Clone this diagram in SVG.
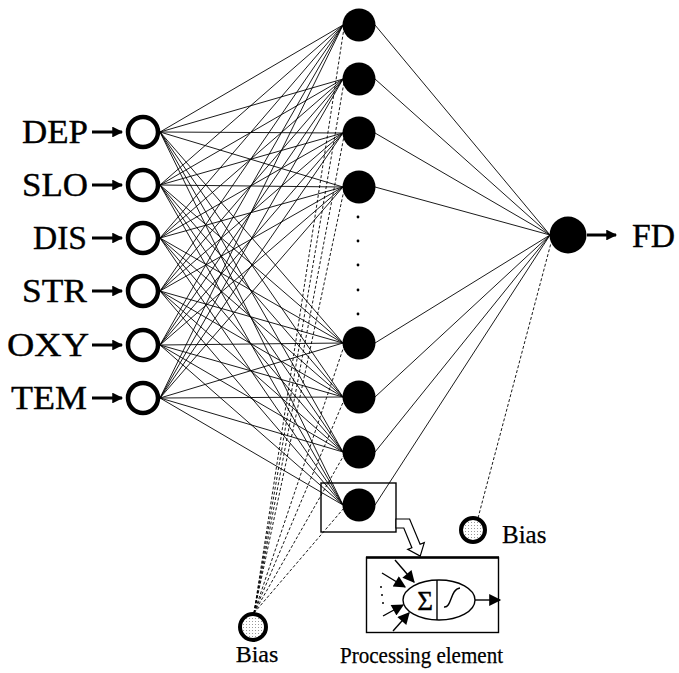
<svg xmlns="http://www.w3.org/2000/svg" width="679" height="673" viewBox="0 0 679 673">
  <style>
    .lbl { font-family: "Liberation Serif", "Times New Roman", serif; font-size: 34px; fill: #000; stroke: #000; stroke-width: 0.4; }
    .small { font-family: "Liberation Serif", "Times New Roman", serif; font-size: 24px; fill: #000; stroke: #000; stroke-width: 0.25; }
    .w { stroke: #000; stroke-width: 0.9; fill: none; }
    .b { stroke: #000; stroke-width: 0.9; stroke-dasharray: 3 2; fill: none; }
    .in { fill: #fff; stroke: #000; stroke-width: 4.5; }
    .hid { fill: #000; }
    .bias { fill: url(#stipple); stroke: #000; stroke-width: 4; }
    .thick { stroke: #000; stroke-width: 3; fill: none; }
    .pe { stroke: #000; stroke-width: 1.4; fill: none; }
  </style>
  <defs>
    <pattern id="stipple" width="3" height="3" patternUnits="userSpaceOnUse">
      <rect width="3" height="3" fill="#fff"/>
      <rect width="1" height="1" fill="#999"/>
    </pattern>
    <marker id="head" viewBox="0 0 10 10" refX="9" refY="5" markerWidth="4.3" markerHeight="3.6" orient="auto" markerUnits="strokeWidth">
      <path d="M0,0 L10,5 L0,10 z" fill="#000"/>
    </marker>
    <marker id="headPE" viewBox="0 0 10 10" refX="9" refY="5" markerWidth="15" markerHeight="12" orient="auto" markerUnits="userSpaceOnUse">
      <path d="M0,0 L10,5 L0,10 z" fill="#000"/>
    </marker>
  </defs>

  <!-- connectors -->
  <g id="connectors">
    <!-- input layer to hidden layer -->
    <g id="input-hidden">
      <path class="w" d="M160,132 L343,25 M160,132 L343,79 M160,132 L343,133 M160,132 L343,187 M160,132 L343,343 M160,132 L343,397 M160,132 L343,452 M160,132 L343,505"/>
      <path class="w" d="M160,185 L343,25 M160,185 L343,79 M160,185 L343,133 M160,185 L343,187 M160,185 L343,343 M160,185 L343,397 M160,185 L343,452 M160,185 L343,505"/>
      <path class="w" d="M160,238 L343,25 M160,238 L343,79 M160,238 L343,133 M160,238 L343,187 M160,238 L343,343 M160,238 L343,397 M160,238 L343,452 M160,238 L343,505"/>
      <path class="w" d="M160,291 L343,25 M160,291 L343,79 M160,291 L343,133 M160,291 L343,187 M160,291 L343,343 M160,291 L343,397 M160,291 L343,452 M160,291 L343,505"/>
      <path class="w" d="M160,345 L343,25 M160,345 L343,79 M160,345 L343,133 M160,345 L343,187 M160,345 L343,343 M160,345 L343,397 M160,345 L343,452 M160,345 L343,505"/>
      <path class="w" d="M160,398 L343,25 M160,398 L343,79 M160,398 L343,133 M160,398 L343,187 M160,398 L343,343 M160,398 L343,397 M160,398 L343,452 M160,398 L343,505"/>
    </g>
    <!-- hidden layer to output -->
    <path id="hidden-output" class="w" d="M375,25 L550,235 M375,79 L550,235 M375,133 L550,235 M375,187 L550,235 M375,343 L550,235 M375,397 L550,235 M375,452 L550,235 M375,505 L550,235"/>
    <!-- bias to hidden layer -->
    <path id="bias-hidden" class="b" d="M254,613 L344,28 M254,613 L344,82 M254,613 L344,136 M254,613 L344,190 M254,613 L344,346 M254,613 L344,400 M254,613 L344,455 M254,613 L344,508"/>
    <!-- bias to output -->
    <path id="bias-output" class="b" d="M478,518 L551,243"/>
    <!-- input arrows -->
    <g id="input-arrows">
      <line class="thick" x1="92" y1="132" x2="122" y2="132" marker-end="url(#head)"/>
      <line class="thick" x1="92" y1="185" x2="122" y2="185" marker-end="url(#head)"/>
      <line class="thick" x1="92" y1="238" x2="122" y2="238" marker-end="url(#head)"/>
      <line class="thick" x1="92" y1="291" x2="122" y2="291" marker-end="url(#head)"/>
      <line class="thick" x1="92" y1="345" x2="122" y2="345" marker-end="url(#head)"/>
      <line class="thick" x1="92" y1="398" x2="122" y2="398" marker-end="url(#head)"/>
    </g>
    <line class="thick" x1="587" y1="235" x2="616" y2="235" marker-end="url(#head)"/>
  </g>

  <!-- input nodes -->
  <g id="DEP"><circle class="in" cx="143" cy="132" r="15"/><text class="lbl" x="22" y="143" textLength="66" lengthAdjust="spacingAndGlyphs">DEP</text></g>
  <g id="SLO"><circle class="in" cx="143" cy="185" r="15"/><text class="lbl" x="22" y="196" textLength="66" lengthAdjust="spacingAndGlyphs">SLO</text></g>
  <g id="DIS"><circle class="in" cx="143" cy="238" r="15"/><text class="lbl" x="33" y="249" textLength="54" lengthAdjust="spacingAndGlyphs">DIS</text></g>
  <g id="STR"><circle class="in" cx="143" cy="291" r="15"/><text class="lbl" x="22" y="302" textLength="65" lengthAdjust="spacingAndGlyphs">STR</text></g>
  <g id="OXY"><circle class="in" cx="143" cy="345" r="15"/><text class="lbl" x="7" y="356" textLength="82" lengthAdjust="spacingAndGlyphs">OXY</text></g>
  <g id="TEM"><circle class="in" cx="143" cy="398" r="15"/><text class="lbl" x="11" y="409" textLength="76" lengthAdjust="spacingAndGlyphs">TEM</text></g>

  <!-- hidden nodes -->
  <g id="hidden">
    <circle class="hid" cx="359" cy="25" r="16.5"/>
    <circle class="hid" cx="359" cy="79" r="16.5"/>
    <circle class="hid" cx="359" cy="133" r="16.5"/>
    <circle class="hid" cx="359" cy="187" r="16.5"/>
    <circle class="hid" cx="359" cy="343" r="16.5"/>
    <circle class="hid" cx="359" cy="397" r="16.5"/>
    <circle class="hid" cx="359" cy="452" r="16.5"/>
    <circle class="hid" cx="359" cy="505" r="16.5"/>
  </g>
  <g id="ellipsis">
    <circle cx="358" cy="217" r="1.4"/>
    <circle cx="358" cy="241" r="1.4"/>
    <circle cx="358" cy="265" r="1.4"/>
    <circle cx="358" cy="290" r="1.4"/>
    <circle cx="358" cy="314" r="1.4"/>
  </g>

  <!-- output node -->
  <g id="FD">
    <circle class="hid" cx="568" cy="235" r="18.5"/>
    <text class="lbl" x="632" y="247" textLength="43" lengthAdjust="spacingAndGlyphs">FD</text>
  </g>

  <!-- bias nodes -->
  <g id="bias-left">
    <circle class="bias" cx="253" cy="627" r="13"/>
    <text class="small" x="257" y="662" text-anchor="middle">Bias</text>
  </g>
  <g id="bias-right">
    <circle class="bias" cx="473" cy="530" r="12"/>
    <text class="small" x="502" y="543" style="font-size:25px">Bias</text>
  </g>

  <!-- processing element detail -->
  <g id="processing-element">
    <rect x="321" y="483" width="75" height="49" fill="none" stroke="#000" stroke-width="1.4"/>
    <polygon points="396,519 409.6,519 420.1,544.3 424.3,542.6 420.2,556.1 407.7,549.4 411.9,547.7 403.8,528 396,528" fill="#fff" stroke="#000" stroke-width="1.2"/>
    <rect x="366.5" y="557.5" width="132" height="75" fill="#fff" stroke="#000" stroke-width="1.4"/>
    <line x1="366" y1="557.5" x2="499" y2="557.5" stroke="#000" stroke-width="2.6"/>
    <ellipse cx="439" cy="600" rx="36" ry="20" fill="#fff" class="pe"/>
    <line x1="437" y1="580" x2="437" y2="620" class="pe"/>
    <text x="425" y="610" text-anchor="middle" style="font-family:'Liberation Serif','Times New Roman',serif;font-size:27px;stroke:#000;stroke-width:0.4">Σ</text>
    <path d="M444,607 C452,608 450,589 460,588" class="pe"/>
    <line x1="475" y1="600" x2="500" y2="600" class="pe" marker-end="url(#headPE)"/>
    <line x1="395" y1="560" x2="414" y2="582" class="pe" marker-end="url(#headPE)"/>
    <line x1="382" y1="573" x2="405" y2="587" class="pe" marker-end="url(#headPE)"/>
    <line x1="383" y1="616" x2="403" y2="605" class="pe" marker-end="url(#headPE)"/>
    <line x1="393" y1="631" x2="409" y2="613" class="pe" marker-end="url(#headPE)"/>
    <circle cx="381" cy="587" r="1"/>
    <circle cx="382" cy="595" r="1"/>
    <circle cx="383" cy="603" r="1"/>
    <text class="small" x="340" y="663" textLength="163" lengthAdjust="spacingAndGlyphs">Processing element</text>
  </g>
</svg>
